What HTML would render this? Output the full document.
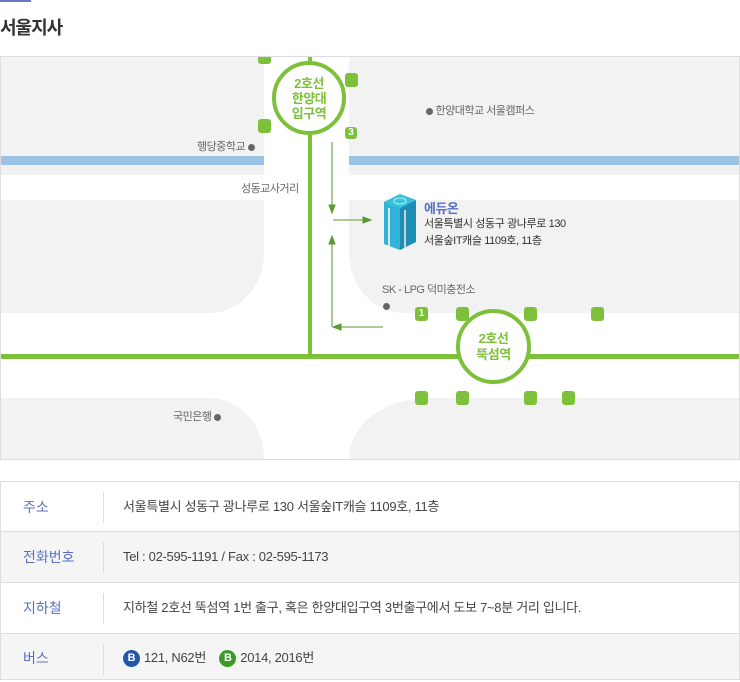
<!DOCTYPE html>
<html><head><meta charset="utf-8">
<style>
*{margin:0;padding:0;box-sizing:border-box}
body{width:740px;height:680px;background:#fff;position:relative;overflow:hidden;font-family:"Liberation Sans","Noto Sans CJK KR",sans-serif;color:#444}
.a{position:absolute}
.g{background:#f2f2f2;position:absolute}
.ex{position:absolute;width:13px;height:14px;background:#7dc13b;border-radius:3px;color:#fff;font-size:10px;font-weight:bold;text-align:center;line-height:14px}
.lbl{position:absolute;font-size:11px;color:#666;letter-spacing:-0.5px;white-space:nowrap}
.dot{display:inline-block;width:7px;height:7px;border-radius:50%;background:#666;vertical-align:middle}
.row{position:absolute;left:0;width:740px;height:51px;border-bottom:1px solid #ddd;border-right:1px solid #ddd;border-left:1px solid #ddd}
.row .h{position:absolute;left:22px;top:0;line-height:50px;font-size:14px;color:#5b6ec4}
.row .s{position:absolute;left:102px;top:10px;width:1px;height:31px;background:#ddd}
.row .t{position:absolute;left:122px;top:0;line-height:50px;font-size:13px;color:#444;letter-spacing:-0.3px;white-space:nowrap}
.bc{display:inline-block;width:17px;height:17px;border-radius:50%;color:#fff;font-size:11px;font-weight:bold;text-align:center;line-height:17px;vertical-align:middle;margin-right:4px}
</style></head><body>
<div class="a" style="left:0;top:0;width:31px;height:2px;background:#6d78c9"></div>
<div class="a" style="left:0;top:14px;font-size:18px;font-weight:bold;color:#333;letter-spacing:-1px">서울지사</div>

<div class="a" style="left:0;top:56px;width:740px;height:404px;border:1px solid #ddd;background:#fff;overflow:hidden">
 <!-- coordinates relative: subtract 57 -->
 <div class="g" style="left:0;top:0;width:263px;height:99px"></div>
 <div class="g" style="left:348px;top:0;width:392px;height:99px"></div>
 <div class="a" style="left:0;top:99px;width:263px;height:9px;background:#9cc2e5"></div>
 <div class="a" style="left:348px;top:99px;width:392px;height:9px;background:#9cc2e5"></div>
 <div class="g" style="left:0;top:108px;width:263px;height:10px"></div>
 <div class="g" style="left:348px;top:108px;width:392px;height:10px"></div>
 <div class="g" style="left:0;top:143px;width:263px;height:113px;border-bottom-right-radius:55px 60px"></div>
 <div class="g" style="left:348px;top:143px;width:392px;height:113px;border-bottom-left-radius:55px 60px"></div>
 <div class="g" style="left:0;top:341px;width:263px;height:70px;border-top-right-radius:55px 60px"></div>
 <div class="g" style="left:348px;top:341px;width:392px;height:70px;border-top-left-radius:80px 60px"></div>

 <div class="a" style="left:307px;top:0;width:4px;height:302px;background:#7dc13b"></div>
 <div class="a" style="left:0;top:297px;width:740px;height:5px;background:#7dc13b"></div>

 <div class="a" style="left:271px;top:4px;width:74px;height:74px;border:4px solid #7dc13b;border-radius:50%;background:#fff;color:#7dc13b;font-size:13px;font-weight:bold;text-align:center;line-height:15px;padding-top:11px;letter-spacing:-0.5px">2호선<br>한양대<br>입구역</div>
 <div class="a" style="left:455px;top:252px;width:75px;height:75px;border:4px solid #7dc13b;border-radius:50%;background:#fff;color:#7dc13b;font-size:13px;font-weight:bold;text-align:center;line-height:16px;padding-top:18px;letter-spacing:-0.5px">2호선<br>뚝섬역</div>

 <div class="ex" style="left:257px;top:-7px"></div>
 <div class="ex" style="left:344px;top:16px"></div>
 <div class="ex" style="left:257px;top:62px"></div>
 <div class="ex" style="left:344px;top:70px;width:12px;height:12px;line-height:12px">3</div>
 <div class="ex" style="left:414px;top:250px">1</div>
 <div class="ex" style="left:455px;top:250px"></div>
 <div class="ex" style="left:523px;top:250px"></div>
 <div class="ex" style="left:590px;top:250px"></div>
 <div class="ex" style="left:414px;top:334px"></div>
 <div class="ex" style="left:455px;top:334px"></div>
 <div class="ex" style="left:523px;top:334px"></div>
 <div class="ex" style="left:561px;top:334px"></div>

 <svg class="a" style="left:0;top:0" width="740" height="404">
  <g stroke="#5a9a2e" stroke-width="1" fill="#5a9a2e">
   <line x1="331" y1="85" x2="331" y2="150"/><polygon points="328,148 334,148 331,156"/>
   <line x1="332" y1="163" x2="364" y2="163"/><polygon points="362,160 362,166 370,163"/>
   <line x1="331" y1="270" x2="331" y2="185"/><polygon points="328,187 334,187 331,179"/>
   <line x1="382" y1="270" x2="338" y2="270"/><polygon points="340,267 340,273 332,270"/>
  </g>
  <g transform="translate(375,137)">
   <polygon points="8,8 24,0 40,6 40,48 24,56 8,50" fill="#b9bfcc"/>
   <polygon points="8,8 24,14 24,56 8,50" fill="#2fb3d6"/>
   <polygon points="24,14 40,6 40,48 24,56" fill="#1d8eb4"/>
   <polygon points="8,8 24,0 40,6 24,14" fill="#35c2de"/>
   <rect x="12" y="14" width="2" height="38" fill="#dfe4ee"/>
   <rect x="28" y="16" width="2" height="38" fill="#c9cfdb"/>
   <ellipse cx="24" cy="7" rx="6" ry="3" fill="none" stroke="#bfeaf5"/>
  </g>
 </svg>

 <div class="lbl" style="left:196px;top:81px">행당중학교 <span class="dot"></span></div>
 <div class="lbl" style="left:425px;top:45px"><span class="dot"></span> 한양대학교 서울캠퍼스</div>
 <div class="lbl" style="left:240px;top:123px">성동교사거리</div>
 <div class="lbl" style="left:381px;top:224px">SK - LPG 덕미충전소</div>
 <div class="a" style="left:382px;top:241px"><span class="dot"></span></div>
 <div class="lbl" style="left:172px;top:351px">국민은행 <span class="dot"></span></div>
 <div class="a" style="left:423px;top:141px;font-size:13px;font-weight:bold;color:#5b6ec4;letter-spacing:-0.5px">에듀온</div>
 <div class="a" style="left:423px;top:159px;font-size:11px;color:#333;line-height:17px;letter-spacing:-0.4px;white-space:nowrap">서울특별시 성동구 광나루로 130<br>서울숲IT캐슬 1109호, 11층</div>
</div>

<div class="row" style="top:481px;height:51px;border-top:1px solid #ddd;background:#fff"><div class="h">주소</div><div class="s"></div><div class="t">서울특별시 성동구 광나루로 130 서울숲IT캐슬 1109호, 11층</div></div>
<div class="row" style="top:532px;background:#f5f5f5"><div class="h">전화번호</div><div class="s"></div><div class="t">Tel : 02-595-1191 / Fax : 02-595-1173</div></div>
<div class="row" style="top:583px;background:#fff"><div class="h">지하철</div><div class="s"></div><div class="t">지하철 2호선 뚝섬역 1번 출구, 혹은 한양대입구역 3번출구에서 도보 7~8분 거리 입니다.</div></div>
<div class="row" style="top:634px;height:46px;background:#f5f5f5"><div class="h" style="line-height:48px">버스</div><div class="s"></div><div class="t" style="line-height:48px"><span class="bc" style="background:#2456a8">B</span>121, N62번 &nbsp;&nbsp;&nbsp;<span class="bc" style="background:#3a9a2a">B</span>2014, 2016번</div></div>
</body></html>
